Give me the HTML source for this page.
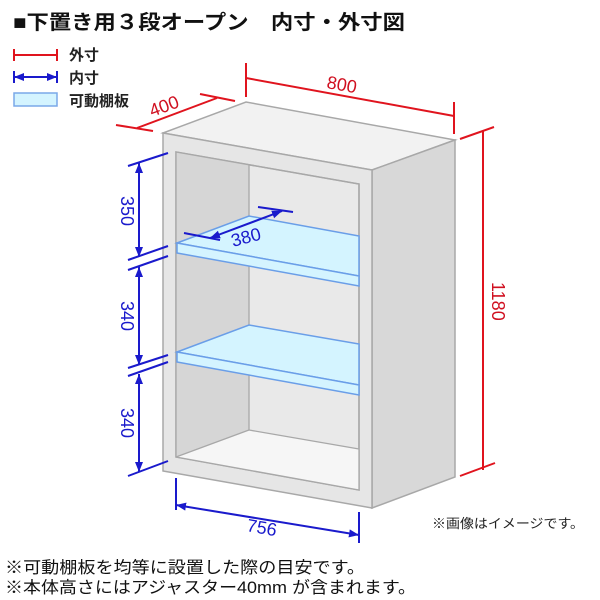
<!DOCTYPE html>
<html><head><meta charset="utf-8"><style>
html,body{margin:0;padding:0;background:#fff;}
svg{display:block;}
text{font-family:"Liberation Sans","Noto Sans CJK JP",sans-serif;}
</style></head><body>
<svg width="600" height="600" viewBox="0 0 600 600" xmlns="http://www.w3.org/2000/svg">
<defs>
<marker id="ab" viewBox="0 0 10 10" refX="10" refY="5" markerWidth="5" markerHeight="5" orient="auto-start-reverse"><path d="M0,1 L10,5 L0,9 z" fill="#1a1acc"/></marker>
</defs>
<text x="13" y="29" font-size="20" font-weight="bold" fill="#111" textLength="392" lengthAdjust="spacingAndGlyphs">■下置き用３段オープン　内寸・外寸図</text>
<g stroke="#e0141e" stroke-width="2"><line x1="14" y1="55" x2="57" y2="55"/><line x1="14" y1="49" x2="14" y2="61"/><line x1="57" y1="49" x2="57" y2="61"/></g>
<g stroke="#1a1acc" stroke-width="2"><line x1="14" y1="77" x2="57" y2="77" marker-start="url(#ab)" marker-end="url(#ab)"/><line x1="14" y1="71" x2="14" y2="83"/><line x1="57" y1="71" x2="57" y2="83"/></g>
<rect x="14" y="93" width="43" height="13" fill="#d4f4ff" stroke="#7aa8e8" stroke-width="1.5"/>
<g font-size="15" font-weight="bold" fill="#222"><text x="69" y="60">外寸</text><text x="69" y="83">内寸</text><text x="69" y="106">可動棚板</text></g>

<polygon points="163,133 246,102 455,140 372,170" fill="#f2f2f2" stroke="#a8a8a8" stroke-width="1.5"/>
<polygon points="372,170 455,140 455,477 372,508" fill="#d8d8d8" stroke="#a8a8a8" stroke-width="1.5"/>
<polygon points="163,133 372,170 372,508 163,471" fill="#e6e6e6" stroke="#a8a8a8" stroke-width="1.5"/>
<polygon points="176,152 359,184 359,490 176,457" fill="#e9e9e9" stroke="#a0a0a0" stroke-width="1.5"/>
<polygon points="176,152 249,165 249,430 176,457" fill="#d6d6d6"/>
<polygon points="176,457 249,430 359,449 359,490" fill="#f6f6f6"/>
<g stroke="#a8a8a8" stroke-width="1.3" fill="none"><line x1="249" y1="165" x2="249" y2="430"/><line x1="249" y1="430" x2="359" y2="449"/><line x1="249" y1="430" x2="176" y2="457"/><polygon points="176,152 359,184 359,490 176,457"/></g>
<g fill="#d4f4ff" stroke="#6a9ee8" stroke-width="1.5">
<polygon points="177,243 249,216 359,236 359,276 177,243"/>
<polygon points="177,243 359,276 359,286 177,253"/>
<polygon points="177,352 249,325 359,344 359,385 177,352"/>
<polygon points="177,352 359,385 359,395 177,362"/>
</g>
<g stroke="#e0141e" stroke-width="2" fill="none">
<line x1="246" y1="63" x2="246" y2="97"/><line x1="454" y1="102" x2="454" y2="134"/><line x1="246" y1="78" x2="454" y2="116"/>
<line x1="116" y1="125" x2="153" y2="131"/><line x1="200" y1="94" x2="235" y2="101"/><line x1="137" y1="128" x2="217" y2="98"/>
<line x1="483" y1="131" x2="483" y2="470"/><line x1="460" y1="139" x2="494" y2="127"/><line x1="460" y1="476" x2="495" y2="463"/>
</g>
<g fill="#d01020" font-size="18">
<text x="0" y="0" transform="translate(326,88) rotate(10)">800</text>
<text x="0" y="0" transform="translate(152,117) rotate(-20)">400</text>
<text x="0" y="0" transform="translate(492,282) rotate(90)">1180</text>
</g>
<g stroke="#1a1acc" stroke-width="2" fill="none">
<line x1="128" y1="166" x2="168" y2="153"/><line x1="128" y1="260" x2="168" y2="246"/>
<line x1="128" y1="270" x2="168" y2="256"/><line x1="128" y1="368" x2="168" y2="355"/>
<line x1="128" y1="376" x2="168" y2="362"/><line x1="128" y1="476" x2="168" y2="461"/>
<line x1="139" y1="163" x2="139" y2="257" marker-start="url(#ab)" marker-end="url(#ab)"/>
<line x1="139" y1="267" x2="139" y2="365" marker-start="url(#ab)" marker-end="url(#ab)"/>
<line x1="139" y1="374" x2="139" y2="472" marker-start="url(#ab)" marker-end="url(#ab)"/>
<line x1="184" y1="233" x2="220" y2="240"/><line x1="258" y1="207" x2="293" y2="212"/>
<line x1="210" y1="238" x2="282" y2="211" marker-start="url(#ab)" marker-end="url(#ab)"/>
<line x1="176" y1="478" x2="176" y2="510"/><line x1="359" y1="512" x2="359" y2="543"/>
<line x1="176" y1="505" x2="359" y2="535" marker-start="url(#ab)" marker-end="url(#ab)"/>
</g>
<g fill="#1a1acc" font-size="18">
<text x="0" y="0" transform="translate(121,196) rotate(90)">350</text>
<text x="0" y="0" transform="translate(121,301) rotate(90)">340</text>
<text x="0" y="0" transform="translate(121,408) rotate(90)">340</text>
<text x="0" y="0" transform="translate(233,247) rotate(-15)">380</text>
<text x="0" y="0" transform="translate(246,531) rotate(10)">756</text>
</g>
<text x="432" y="528" font-size="13" fill="#222" textLength="152" lengthAdjust="spacingAndGlyphs">※画像はイメージです。</text>
<text x="5" y="573" font-size="16.5" fill="#111" textLength="360" lengthAdjust="spacingAndGlyphs">※可動棚板を均等に設置した際の目安です。</text>
<text x="5" y="593" font-size="16.5" fill="#111" textLength="411" lengthAdjust="spacingAndGlyphs">※本体高さにはアジャスター40mm が含まれます。</text>
</svg>
</body></html>
